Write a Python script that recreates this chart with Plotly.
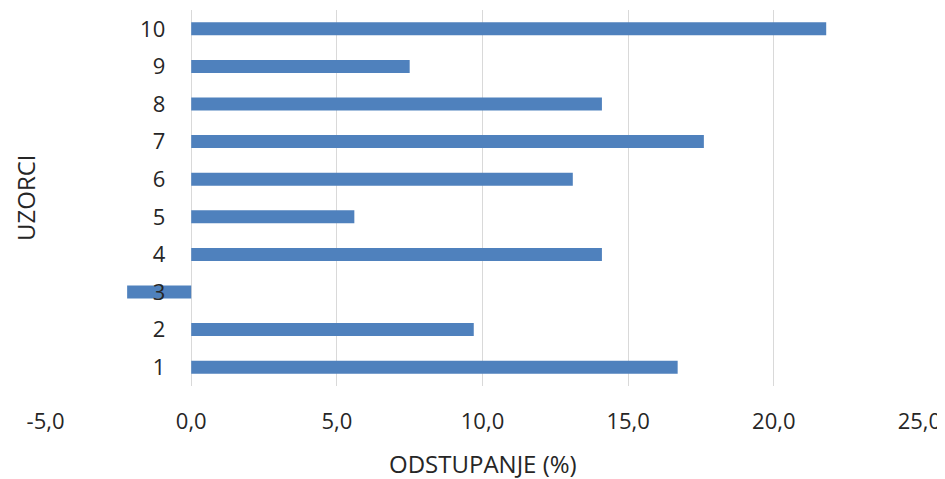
import plotly.graph_objects as go

samples = [1, 2, 3, 4, 5, 6, 7, 8, 9, 10]
deviation = [16.7, 9.7, -2.2, 14.1, 5.6, 13.1, 17.6, 14.1, 7.5, 21.8]
x_tick_vals = [-5, 0, 5, 10, 15, 20, 25]
x_tick_labels = ["-5,0", "0,0", "5,0", "10,0", "15,0", "20,0", "25,0"]
y_tick_labels = [str(s) for s in samples]

x_min, x_max = -5.02, 25.02
text_color = "#262626"
font_family = "Open Sans, Noto Sans, sans-serif"

fig = go.Figure()
fig.add_trace(go.Bar(
    x=deviation, y=samples, orientation="h",
    marker=dict(color="#4F81BD", line=dict(width=0)),
    showlegend=False,
))

# page body has an 8px default margin; size the figure to compensate
fig.update_layout(
    width=937, height=471,
    margin=dict(l=37, r=25, t=2, b=93),
    paper_bgcolor="white", plot_bgcolor="white",
    bargap=0.655,
    font=dict(family=font_family, color=text_color, size=22),
    xaxis=dict(
        range=[x_min, x_max],
        tickvals=x_tick_vals, ticktext=x_tick_labels,
        showgrid=True, gridcolor="#D9D9D9", gridwidth=1,
        zeroline=False, showline=False, automargin=False,
        ticks="", ticklabelstandoff=20,
        tickfont=dict(size=22, family=font_family, color=text_color),
    ),
    yaxis=dict(
        range=[0.5, 10.5],
        tickvals=samples, ticktext=y_tick_labels,
        showgrid=False, zeroline=False, showline=False, automargin=False,
        anchor="free", position=(0 - x_min) / (x_max - x_min),
        ticks="", ticklabelstandoff=26,
        tickfont=dict(size=22, family=font_family, color=text_color),
    ),
    annotations=[
        dict(
            text="UZORCI", textangle=-90,
            xref="paper", yref="paper",
            x=0, y=0.5, xanchor="center", yanchor="middle", xshift=-20,
            showarrow=False,
            font=dict(size=24, family=font_family, color=text_color),
        ),
        dict(
            text="ODSTUPANJE (%)",
            xref="paper", yref="paper",
            x=0.5, y=0, xanchor="center", yanchor="middle", yshift=-77,
            showarrow=False,
            font=dict(size=24, family=font_family, color=text_color),
        ),
    ],
)

fig.write_html("out.html")
